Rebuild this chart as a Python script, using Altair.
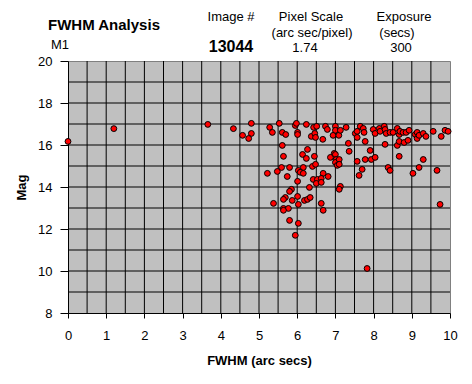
import altair as alt
import pandas as pd

# FWHM (arc secs) and Mag values
fwhm = [0.00, 1.20, 3.66, 4.33, 4.57,
        4.80, 4.80, 4.73, 5.28, 5.35, 5.53, 5.61, 5.70, 5.95, 5.98, 6.01, 6.01, 6.24, 6.37, 6.43,
        6.46, 6.48, 6.51, 6.67, 6.74, 6.79, 6.94, 7.00, 7.00, 7.09, 7.13, 7.28, 7.52, 7.57, 7.57,
        7.65, 7.73, 7.75, 7.78, 7.99, 8.04, 8.15, 8.17, 8.28, 8.30, 8.33, 8.43, 8.51, 8.62, 8.67,
        8.69, 8.77, 8.85, 8.93, 9.09, 9.14, 9.14, 9.19, 9.30, 9.37, 9.56, 9.77, 9.87, 9.95,
        7.34, 8.30, 8.62, 8.67, 8.80, 8.90, 5.61, 6.27, 6.14, 6.45, 6.24, 5.64, 6.97, 6.87, 7.00,
        7.02, 7.00, 7.10, 7.36, 7.91, 7.78, 7.94, 8.04, 7.57, 8.67, 9.30, 5.59, 5.80, 6.40, 6.48,
        6.16, 6.03, 6.08, 7.05, 7.10, 6.16, 5.48, 5.22, 6.68, 7.70, 8.38, 8.43, 9.19, 9.03, 9.66,
        5.74, 6.81, 7.62, 6.42, 6.53, 6.63, 6.50, 6.63, 6.01, 6.32, 5.85, 5.80, 7.13, 7.10, 5.69,
        5.64, 6.01, 5.87, 6.19, 6.27, 6.34, 5.38, 6.03, 6.63, 5.64, 5.77, 5.64, 6.68, 9.74, 5.80,
        6.03, 5.95, 7.83]
mag = [16.17, 16.78, 16.98, 16.78, 16.46,
       17.03, 16.55, 16.31, 16.84, 16.60, 17.03, 16.60, 16.50, 16.93, 17.03, 16.60, 16.50, 16.98, 16.41, 16.84,
       16.55, 16.36, 16.89, 16.27, 16.89, 16.74, 16.46, 16.89, 16.70, 16.46, 16.70, 16.84, 16.55, 16.65, 16.36,
       16.89, 16.79, 16.60, 16.17, 16.74, 16.55, 16.79, 16.65, 16.89, 16.74, 16.55, 16.60, 16.60, 16.79, 16.50,
       16.65, 16.60, 16.60, 16.70, 16.50, 16.60, 16.31, 16.46, 16.55, 16.41, 16.65, 16.41, 16.70, 16.65,
       16.08, 16.03, 15.98, 16.17, 16.12, 16.22, 15.98, 15.79, 15.55, 15.46, 15.36, 15.46, 15.60, 15.41, 15.55,
       15.31, 15.17, 15.31, 15.70, 15.74, 15.31, 15.31, 15.41, 15.22, 15.46, 15.31, 14.93, 14.93, 14.98, 15.08,
       14.93, 14.79, 14.70, 15.03, 15.08, 14.65, 14.74, 14.65, 14.65, 14.84, 14.93, 14.79, 14.93, 14.65, 14.79,
       14.50, 14.50, 14.55, 14.36, 14.36, 14.41, 14.17, 14.22, 14.27, 13.98, 13.89, 13.79, 14.03, 13.89, 13.50,
       13.41, 13.55, 13.36, 13.36, 13.41, 13.50, 13.22, 13.17, 13.22, 12.98, 12.98, 12.89, 12.89, 13.17, 12.41,
       12.27, 11.70, 10.12]

x_ticks = list(range(0, 11))
y_ticks = [8, 10, 12, 14, 16, 18, 20]
x_grid = [0.5 * i for i in range(1, 20)]
y_grid = list(range(9, 20))

header_texts = ["FWHM Analysis", "M1", "Image #", "13044", "Pixel Scale",
                "(arc sec/pixel)", "1.74", "Exposure", "(secs)", "300"]

FONT = "Liberation Sans"
X_DOM = [0, 10]
Y_DOM = [8, 20]

df = pd.DataFrame({"fwhm": fwhm, "mag": mag})

xs = alt.Scale(domain=X_DOM, nice=False, zero=False)
ys = alt.Scale(domain=Y_DOM, nice=False, zero=False)

x_axis = alt.Axis(values=x_ticks, grid=False, tickSize=5, tickColor="black",
                  domainColor="black", labelFont=FONT, labelFontSize=13,
                  labelColor="black", labelPadding=11, titleFont=FONT,
                  titleFontSize=13, titleFontWeight="bold", titleColor="black",
                  titlePadding=12, labelFlush=False)
y_axis = alt.Axis(values=y_ticks, grid=False, tickSize=8, tickColor="black",
                  domainColor="black", labelFont=FONT, labelFontSize=13,
                  labelColor="black", labelPadding=8, titleFont=FONT,
                  titleFontSize=13, titleFontWeight="bold", titleColor="black",
                  titlePadding=9, labelFlush=False)

vgrid = alt.Chart(pd.DataFrame({"gx": x_grid})).mark_rule(color="black", strokeWidth=1).encode(
    x=alt.X("gx:Q", scale=xs, title="FWHM (arc secs)", axis=x_axis))
hgrid = alt.Chart(pd.DataFrame({"gy": y_grid})).mark_rule(color="black", strokeWidth=1).encode(
    y=alt.Y("gy:Q", scale=ys, title="Mag", axis=y_axis))

pts = alt.Chart(df).mark_point(filled=True, shape="circle", size=34, color="#FF0000",
                               stroke="black", strokeWidth=1, opacity=1).encode(
    x=alt.X("fwhm:Q", scale=xs, title="FWHM (arc secs)", axis=x_axis),
    y=alt.Y("mag:Q", scale=ys, title="Mag", axis=y_axis),
)

# header text positions (relative to plot origin)
pos = {
    "FWHM Analysis": (36, -36, 15, "bold"),
    "M1": (-8, -16, 13, "normal"),
    "Image #": (163, -44, 13, "normal"),
    "13044": (163, -14, 16, "bold"),
    "Pixel Scale": (243, -44, 13, "normal"),
    "(arc sec/pixel)": (244, -28, 13, "normal"),
    "1.74": (237, -13, 13, "normal"),
    "Exposure": (336, -44, 13, "normal"),
    "(secs)": (329, -28, 13, "normal"),
    "300": (333, -13, 13, "normal"),
}
texts = []
for t in header_texts:
    x0, y0, fs, fw = pos[t]
    texts.append(
        alt.Chart(pd.DataFrame({"t": [t]})).mark_text(
            font=FONT, fontSize=fs, fontWeight=fw, color="black",
            align="center", baseline="middle").encode(
            text="t:N", x=alt.value(x0), y=alt.value(y0)))

chart = alt.layer(vgrid, hgrid, pts, *texts).properties(
    width=382, height=252,
    autosize=alt.AutoSizeParams(type="none"),
    padding={"left": 60, "top": 53, "right": 14, "bottom": 63},
    background="white",
).configure_view(fill="#C0C0C0", stroke="#808080", strokeWidth=1)

chart.save("out.html", embed_options={"renderer": "svg", "actions": False})
